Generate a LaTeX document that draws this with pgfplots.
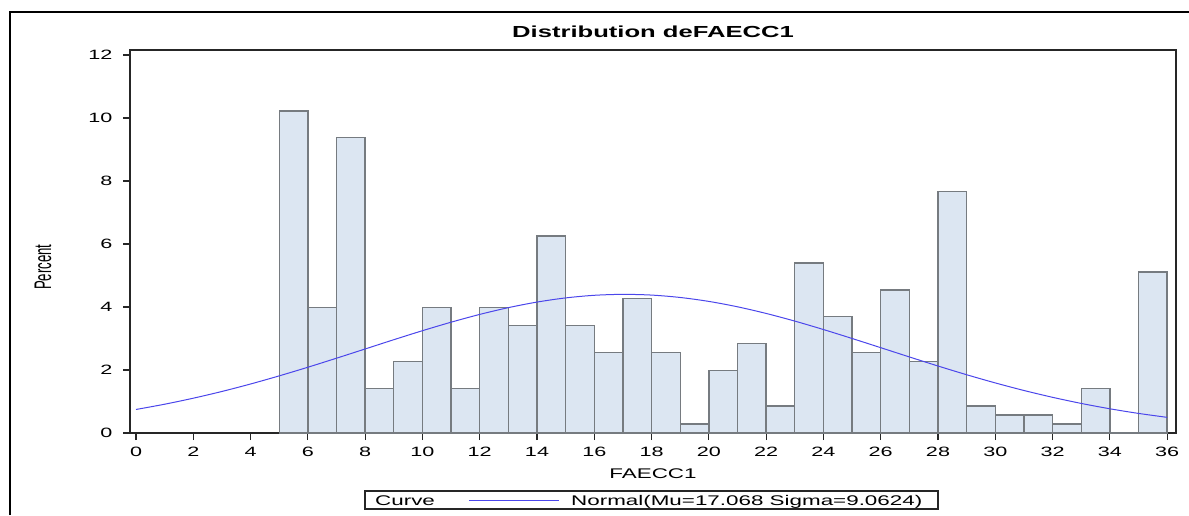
\documentclass[border=0pt]{standalone}
\usepackage{fontspec}
\setmainfont{Liberation Sans}
\newfontfamily\sasfont[FakeStretch=1.6]{Liberation Sans}
\newfontfamily\sascond[FakeStretch=0.55]{Liberation Sans}
\usepackage{pgfplots}
\pgfplotsset{compat=1.18}
\definecolor{barfill}{RGB}{220,230,242}
\definecolor{baredge}{RGB}{118,123,128}
\definecolor{curveblue}{RGB}{75,70,235}
\begin{document}
\begin{tikzpicture}
\useasboundingbox (0pt,0pt) rectangle (1189pt,515pt);
% outer page frame (left and top)
\draw[black, line width=1.6pt] (10pt,0pt) -- (10pt,503pt) -- (1189pt,503pt);
\begin{axis}[
  scale only axis,
  width=1046pt, height=383pt,
  at={(130pt,82pt)}, anchor=south west,
  xmin=-0.21, xmax=36.31, ymin=0, ymax=12.16,
  xtick={0,2,...,36}, ytick={0,2,...,12},
  tick pos=left, tick align=outside,
  major tick length=7pt,
  axis line style={line width=1.2pt, draw=black!85},
  every tick/.style={line width=1.2pt, black!85},
  /pgf/number format/assume math mode=true,
  tick label style={font=\sasfont\fontsize{13.5}{16}\selectfont},
  xticklabel style={yshift=-4pt},
  yticklabel style={xshift=-7pt},
  title={\sasfont\bfseries\fontsize{16}{19}\selectfont Distribution deFAECC1},
  title style={at={(axis description cs:0.5,1.0157)}, anchor=base},
  xlabel={\sasfont\fontsize{14}{16}\selectfont FAECC1},
  xlabel style={at={(axis description cs:0.5,-0.1175)}, anchor=base},
  ylabel={\sascond\fontsize{24}{26}\selectfont Percent},
  ylabel style={at={(axis description cs:-0.0832,0.433)}, anchor=center},
]
\addplot[ybar interval, fill=barfill, draw=baredge, line width=1.4pt] coordinates {
  (5,10.227) (6,3.977) (7,9.375) (8,1.420) (9,2.273) (10,3.977) (11,1.420)
  (12,3.977) (13,3.409) (14,6.250) (15,3.409) (16,2.557) (17,4.261) (18,2.557)
  (19,0.284) (20,1.989) (21,2.841) (22,0.852) (23,5.398) (24,3.693) (25,2.557)
  (26,4.545) (27,2.273) (28,7.670) (29,0.852) (30,0.568) (31,0.568) (32,0.284)
  (33,1.420) (34,0) (35,5.114) (36,5.114)
};
\addplot[curveblue, line width=1pt, smooth, no marks] coordinates {
  (0,0.747) (1,0.914) (2,1.105) (3,1.319) (4,1.556) (5,1.814) (6,2.088)
  (7,2.375) (8,2.668) (9,2.962) (10,3.248) (11,3.518) (12,3.765) (13,3.980)
  (14,4.157) (15,4.289) (16,4.372) (17,4.402) (18,4.379) (19,4.303) (20,4.178)
  (21,4.007) (22,3.796) (23,3.553) (24,3.285) (25,3.001) (26,2.709) (27,2.415)
  (28,2.127) (29,1.850) (30,1.590) (31,1.350) (32,1.133) (33,0.939) (34,0.769)
  (35,0.622) (36,0.497)
};
\end{axis}
% legend box
\draw[black!85, line width=1.3pt] (365pt,6pt) rectangle (938pt,24pt);
\node[anchor=base west, inner sep=0pt, font=\sasfont\fontsize{14}{16}\selectfont] at (375pt,10pt) {Curve};
\draw[curveblue, line width=1pt] (469pt,15pt) -- (559pt,15pt);
\node[anchor=base west, inner sep=0pt, font=\sasfont\fontsize{14}{16}\selectfont] at (571pt,10pt) {Normal(Mu=17.068 Sigma=9.0624)};
\end{tikzpicture}
\end{document}
